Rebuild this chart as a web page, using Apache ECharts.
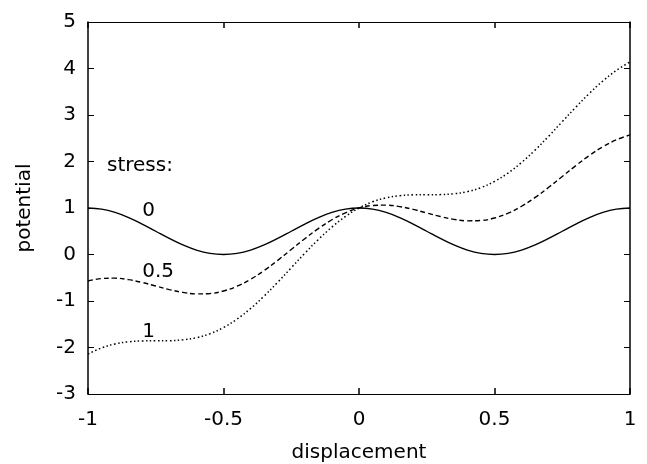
<!DOCTYPE html>
<html>
<head>
<meta charset="utf-8">
<script src="https://cdn.jsdelivr.net/npm/echarts@6/dist/echarts.min.js"></script>
<style>
  html, body { margin: 0; padding: 0; background: #fff; }
  #chart { width: 647px; height: 464px; }
</style>
</head>
<body>
<div id="chart"></div>
<script>
// Displacement samples, step 0.05 from -1 to 1
const displacement = [
  -1.00, -0.95, -0.90, -0.85, -0.80, -0.75, -0.70, -0.65, -0.60, -0.55,
  -0.50, -0.45, -0.40, -0.35, -0.30, -0.25, -0.20, -0.15, -0.10, -0.05,
   0.00,  0.05,  0.10,  0.15,  0.20,  0.25,  0.30,  0.35,  0.40,  0.45,
   0.50,  0.55,  0.60,  0.65,  0.70,  0.75,  0.80,  0.85,  0.90,  0.95,  1.00
];

// Potential at stress 0
const potentialStress0 = [
  1.000, 0.976, 0.905, 0.794, 0.655, 0.500, 0.345, 0.206, 0.095, 0.024,
  0.000, 0.024, 0.095, 0.206, 0.345, 0.500, 0.655, 0.794, 0.905, 0.976,
  1.000, 0.976, 0.905, 0.794, 0.655, 0.500, 0.345, 0.206, 0.095, 0.024,
  0.000, 0.024, 0.095, 0.206, 0.345, 0.500, 0.655, 0.794, 0.905, 0.976, 1.000
];

// Potential at stress 0.5
const potentialStress05 = [
  -0.571, -0.517, -0.509, -0.541, -0.602, -0.678, -0.754, -0.815, -0.847, -0.839,
  -0.785, -0.682, -0.533, -0.344, -0.126,  0.107,  0.340,  0.558,  0.747,  0.897,
   1.000,  1.054,  1.062,  1.030,  0.969,  0.893,  0.817,  0.756,  0.724,  0.731,
   0.785,  0.888,  1.038,  1.227,  1.445,  1.678,  1.911,  2.129,  2.318,  2.468,  2.571
];

// Potential at stress 1
const potentialStress1 = [
  -2.142, -2.009, -1.923, -1.877, -1.859, -1.856, -1.854, -1.836, -1.790, -1.703,
  -1.571, -1.389, -1.161, -0.894, -0.597, -0.285,  0.026,  0.323,  0.590,  0.818,
   1.000,  1.133,  1.219,  1.265,  1.283,  1.285,  1.288,  1.306,  1.352,  1.438,
   1.571,  1.752,  1.980,  2.248,  2.545,  2.856,  3.168,  3.464,  3.732,  3.960,  4.142
];

const xTicks = [-1, -0.5, 0, 0.5, 1];
const yTicks = [-3, -2, -1, 0, 1, 2, 3, 4, 5];

// Text placed inside the plot (data coordinates)
const notes = [
  [-0.93, 1.91, 'stress:'],
  [-0.80, 0.94, '0'],
  [-0.80, -0.37, '0.5'],
  [-0.80, -1.66, '1']
];

const FONT = 'DejaVu Sans';
const INK = '#000';

function pairs(ys) {
  return displacement.map((x, i) => [x, ys[i]]);
}

const tickStyle = (w) => ({ show: true, inside: true, length: 6, lineStyle: { color: INK, width: w } });

const chart = echarts.init(document.getElementById('chart'), null, { renderer: 'canvas' });

chart.setOption({
  animation: false,
  backgroundColor: '#fff',
  grid: { left: 88, right: 17, top: 22, bottom: 70, containLabel: false, outerBoundsMode: 'none' },
  xAxis: [
    {
      type: 'value',
      min: xTicks[0], max: xTicks[xTicks.length - 1], interval: 0.5,
      position: 'bottom',
      name: 'displacement',
      nameLocation: 'middle',
      nameGap: 49,
      nameTextStyle: { fontFamily: FONT, fontSize: 20, color: INK },
      axisLine: { show: true, onZero: false, lineStyle: { color: INK, width: 1 } },
      axisTick: tickStyle(1.5),
      axisLabel: { fontFamily: FONT, fontSize: 20, color: INK, margin: 16 },
      splitLine: { show: false }
    },
    {
      type: 'value',
      min: xTicks[0], max: xTicks[xTicks.length - 1], interval: 0.5,
      position: 'top',
      axisLine: { show: true, onZero: false, lineStyle: { color: INK, width: 1 } },
      axisTick: tickStyle(1.5),
      axisLabel: { show: false },
      splitLine: { show: false }
    }
  ],
  yAxis: [
    {
      type: 'value',
      min: yTicks[0], max: yTicks[yTicks.length - 1], interval: 1,
      position: 'left',
      name: 'potential',
      nameLocation: 'middle',
      nameGap: 53,
      nameRotate: 90,
      nameTextStyle: { fontFamily: FONT, fontSize: 20, color: INK },
      axisLine: { show: true, onZero: false, lineStyle: { color: INK, width: 1.5 } },
      axisTick: tickStyle(1),
      axisLabel: { fontFamily: FONT, fontSize: 20, color: INK, margin: 12, padding: [4, 0, 0, 0] },
      splitLine: { show: false }
    },
    {
      type: 'value',
      min: yTicks[0], max: yTicks[yTicks.length - 1], interval: 1,
      position: 'right',
      axisLine: { show: true, onZero: false, lineStyle: { color: INK, width: 1.5 } },
      axisTick: tickStyle(1),
      axisLabel: { show: false },
      splitLine: { show: false }
    }
  ],
  series: [
    {
      name: '0',
      type: 'line',
      xAxisIndex: 0, yAxisIndex: 0,
      data: pairs(potentialStress0),
      smooth: 0.4,
      showSymbol: false,
      lineStyle: { color: INK, width: 1.4, type: 'solid' }
    },
    {
      name: '0.5',
      type: 'line',
      xAxisIndex: 0, yAxisIndex: 0,
      data: pairs(potentialStress05),
      smooth: 0.4,
      showSymbol: false,
      lineStyle: { color: INK, width: 1.4, type: [5, 3] }
    },
    {
      name: '1',
      type: 'line',
      xAxisIndex: 0, yAxisIndex: 0,
      data: pairs(potentialStress1),
      smooth: 0.4,
      showSymbol: false,
      lineStyle: { color: INK, width: 1.5, type: [1.5, 2.5] }
    },
    {
      name: 'notes',
      type: 'scatter',
      xAxisIndex: 0, yAxisIndex: 0,
      data: notes,
      symbolSize: 0,
      silent: true,
      itemStyle: { opacity: 1 },
      label: {
        show: true,
        position: 'inside',
        align: 'left',
        verticalAlign: 'middle',
        formatter: (p) => p.value[2],
        fontFamily: FONT,
        fontSize: 20,
        color: INK,
        opacity: 1
      }
    }
  ]
});
</script>
</body>
</html>
